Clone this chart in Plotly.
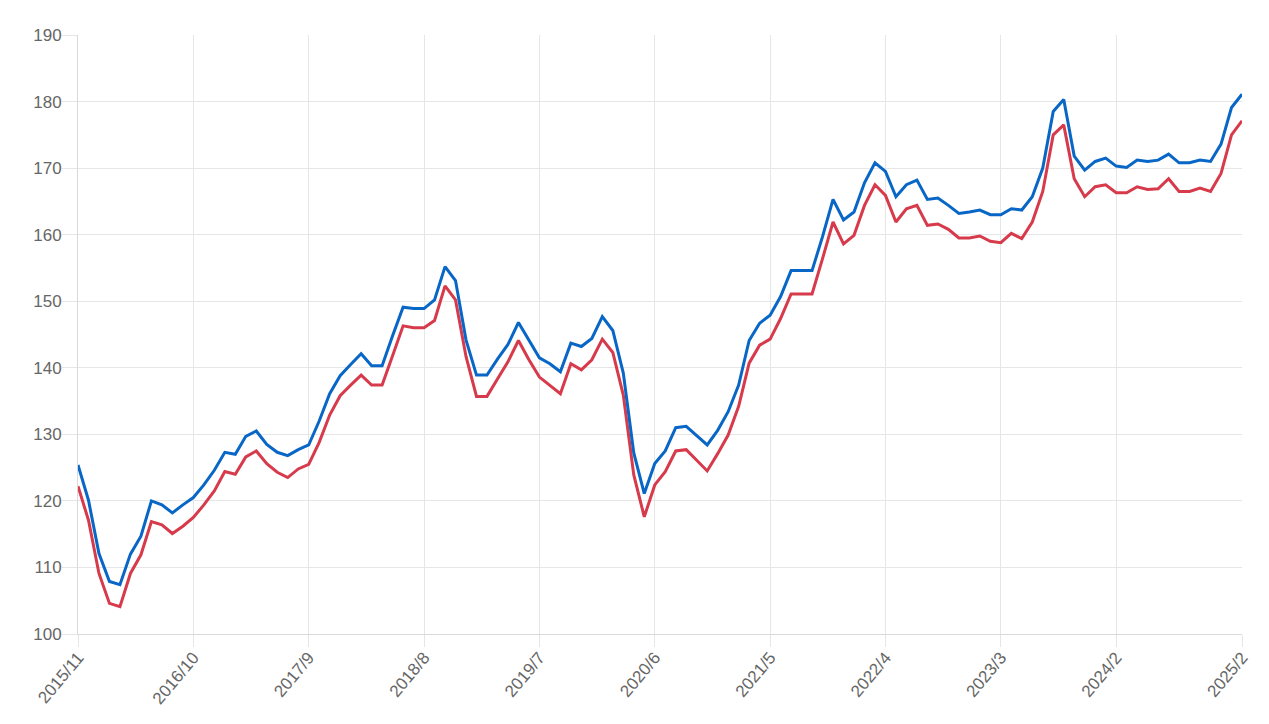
import plotly.graph_objects as go

# monthly labels, 2015/11 .. 2025/2
months = []
y, m = 2015, 11
while (y, m) <= (2025, 2):
    months.append(f"{y}/{m}")
    m += 1
    if m > 12:
        y, m = y + 1, 1

series_blue = [
    125.4, 120.1, 112.1, 107.9, 107.4, 112.0, 114.7, 120.0, 119.4, 118.2,
    119.4, 120.5, 122.4, 124.6, 127.3, 127.0, 129.7, 130.5, 128.5, 127.3,
    126.8, 127.7, 128.4, 132.0, 136.1, 138.8, 140.5, 142.1, 140.3, 140.3,
    144.8, 149.1, 148.9, 148.9, 150.2, 155.2, 153.1, 144.2, 138.9, 138.9,
    141.3, 143.5, 146.8, 144.1, 141.5, 140.6, 139.4, 143.7, 143.2, 144.4,
    147.7, 145.6, 139.2, 127.2, 121.1, 125.6, 127.5, 131.0, 131.2, 129.8,
    128.4, 130.6, 133.4, 137.4, 144.1, 146.7, 147.9, 150.7, 154.6, 154.6,
    154.6, 159.7, 165.3, 162.2, 163.4, 167.8, 170.8, 169.5, 165.7, 167.5,
    168.2, 165.3, 165.5, 164.4, 163.2, 163.4, 163.7, 163.0, 163.0, 163.9,
    163.7, 165.7, 170.0, 178.5, 180.3, 171.8, 169.7, 171.0, 171.5, 170.3,
    170.1, 171.2, 171.0, 171.2, 172.1, 170.8, 170.8, 171.2, 171.0, 173.6,
    179.1, 181.1,
]

series_red = [
    122.2, 117.1, 109.1, 104.6, 104.1, 109.1, 111.9, 116.9, 116.4, 115.1,
    116.2, 117.5, 119.4, 121.5, 124.4, 124.0, 126.6, 127.5, 125.6, 124.3,
    123.5, 124.8, 125.5, 128.8, 132.9, 135.8, 137.4, 138.9, 137.4, 137.4,
    141.8, 146.3, 146.0, 146.0, 147.1, 152.3, 150.2, 141.7, 135.7, 135.7,
    138.3, 140.9, 144.1, 141.2, 138.6, 137.4, 136.1, 140.6, 139.7, 141.2,
    144.3, 142.3, 135.9, 123.9, 117.6, 122.4, 124.4, 127.5, 127.7, 126.1,
    124.5, 127.1, 129.9, 134.2, 140.7, 143.4, 144.3, 147.4, 151.1, 151.1,
    151.1, 156.4, 161.9, 158.6, 159.9, 164.4, 167.5, 165.9, 161.9, 163.9,
    164.4, 161.4, 161.6, 160.8, 159.5, 159.5, 159.8, 159.0, 158.8, 160.2,
    159.4, 161.9, 166.5, 175.0, 176.5, 168.4, 165.7, 167.2, 167.5, 166.3,
    166.3, 167.2, 166.8, 166.9, 168.4, 166.5, 166.5, 167.0, 166.5, 169.2,
    175.0, 177.1,
]

idx = list(range(len(months)))
tick_idx = list(range(0, 100, 11)) + [len(months) - 1]
tick_text = [months[i] for i in tick_idx]

fig = go.Figure()
fig.add_trace(go.Scatter(x=idx, y=series_red, mode="lines",
                         line=dict(color="#d63a4b", width=3), hoverinfo="skip"))
fig.add_trace(go.Scatter(x=idx, y=series_blue, mode="lines",
                         line=dict(color="#0866c6", width=3), hoverinfo="skip"))

grid = "#e6e6e6"
fig.update_layout(
    width=1261, height=716,
    margin=dict(l=70, r=27, t=27, b=90),
    paper_bgcolor="white", plot_bgcolor="white",
    showlegend=False,
    font=dict(family="Liberation Sans, Arial, sans-serif", size=17, color="#666666"),
    xaxis=dict(
        range=[0, len(months) - 1], tickvals=tick_idx, ticktext=tick_text,
        tickangle=-50, tickfont=dict(size=17), ticklabelstandoff=-6,
        showgrid=True, gridcolor=grid, zeroline=False,
        showline=True, linecolor="#d9d9d9", linewidth=1,
        ticks="outside", ticklen=12, tickcolor=grid,
    ),
    yaxis=dict(
        range=[100, 190], dtick=10, showgrid=True, gridcolor=grid, zeroline=False,
        showline=True, linecolor="#d9d9d9", linewidth=1, ticklabelstandoff=-3,
        ticks="outside", ticklen=15, tickcolor=grid,
    ),
)

fig.write_html("out.html")
